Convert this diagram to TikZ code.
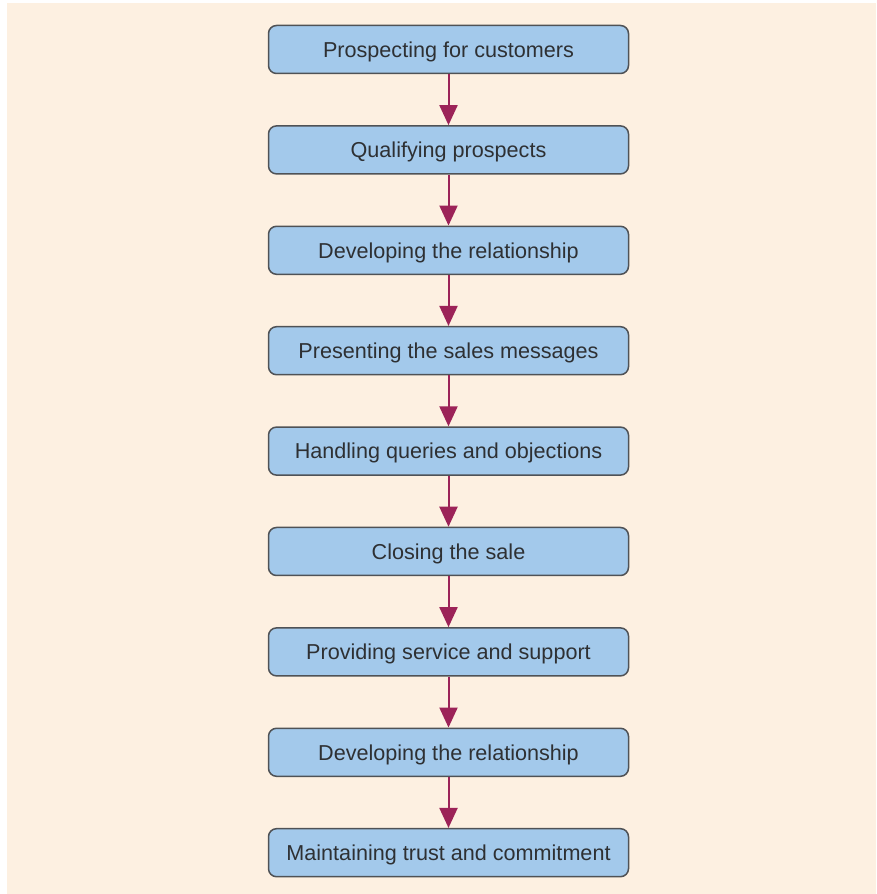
\documentclass[tikz,border=0pt]{standalone}
\usepackage{fontspec}
\setmainfont{Liberation Sans}
\usetikzlibrary{arrows.meta}
\definecolor{bgpeach}{HTML}{FDF0E1}
\definecolor{boxblue}{HTML}{A3C9EB}
\definecolor{boxedge}{HTML}{4F5256}
\definecolor{arrowred}{HTML}{9C2358}
\definecolor{txt}{HTML}{2E3033}
\begin{document}
\begin{tikzpicture}[x=1pt,y=1pt,
  stagebox/.style={draw=boxedge, line width=1.5pt, fill=boxblue, rounded corners=8pt,
    minimum width=360pt, minimum height=48pt, inner sep=0pt, text=txt,
    text height=15.5pt, text depth=0pt,
    font=\fontsize{21.6}{25}\selectfont},
  flowarrow/.style={draw=arrowred, line width=2pt,
    -{Triangle[width=18pt,length=20pt]}}]
\useasboundingbox (0,0) rectangle (876,894);
\fill[white] (0,0) rectangle (876,894);
\fill[bgpeach] (7,0) rectangle (876,891);
\node[stagebox] (s1) at (448.5,894-49.5) {Prospecting for customers};
\node[stagebox] (s2) at (448.5,894-149.9) {Qualifying prospects};
\node[stagebox] (s3) at (448.5,894-250.3) {Developing the relationship};
\node[stagebox] (s4) at (448.5,894-350.7) {Presenting the sales messages};
\node[stagebox] (s5) at (448.5,894-451.1) {Handling queries and objections};
\node[stagebox] (s6) at (448.5,894-551.5) {Closing the sale};
\node[stagebox] (s7) at (448.5,894-651.9) {Providing service and support};
\node[stagebox] (s8) at (448.5,894-752.3) {Developing the relationship};
\node[stagebox] (s9) at (448.5,894-852.7) {Maintaining trust and commitment};
\foreach \a/\b in {s1/s2,s2/s3,s3/s4,s4/s5,s5/s6,s6/s7,s7/s8,s8/s9}
  \draw[flowarrow] (\a.south) -- (\b.north);
\end{tikzpicture}
\end{document}
